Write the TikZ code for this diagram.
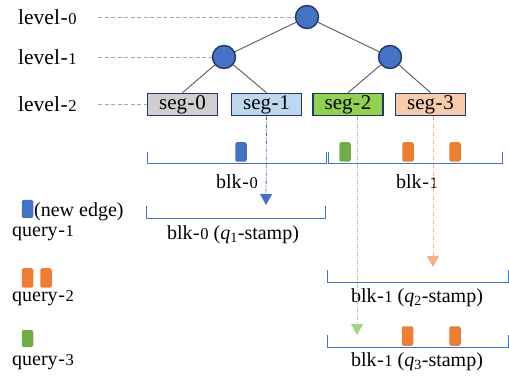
\documentclass[tikz,border=0pt]{standalone}
\usepackage{fontspec}
\setmainfont{Liberation Serif}
\usetikzlibrary{arrows.meta}
\definecolor{nodeblue}{HTML}{4472C4}
\definecolor{navy}{HTML}{203864}
\definecolor{segGray}{HTML}{D0CECE}
\definecolor{segBlue}{HTML}{BDD7EE}
\definecolor{segGreen}{HTML}{92D050}
\definecolor{segPeach}{HTML}{F8CBAD}
\definecolor{edgeOrange}{HTML}{ED7D31}
\definecolor{edgeGreen}{HTML}{70AD47}
\definecolor{lightGreen}{HTML}{A9D18E}
\definecolor{lightOrange}{HTML}{F4B183}
\definecolor{lineGray}{HTML}{595959}
\definecolor{dashGray}{HTML}{A6A6A6}
\newcommand\od[1]{{\fontsize{16.5}{16.5}\selectfont #1}}
\newcommand\hy{\kern0.6pt-\kern0.6pt}
\begin{document}
\begin{tikzpicture}[x=1pt,y=-1pt,
  treenode/.style={circle,draw=navy,line width=1.4pt,fill=nodeblue,minimum size=23pt,inner sep=0pt},
  segbox/.style={draw=navy,line width=1.6pt,minimum width=70pt,minimum height=22pt,inner sep=0pt,font=\fontsize{21}{21}\selectfont},
  treeedge/.style={draw=lineGray,line width=0.9pt},
  dashline/.style={draw=dashGray,line width=0.8pt,dash pattern=on 4pt off 2.5pt},
  lvl/.style={anchor=west,inner sep=0pt,font=\fontsize{21.5}{21.5}\selectfont},
  txt/.style={inner sep=0pt,font=\fontsize{20}{20}\selectfont},
  bracket/.style={draw=nodeblue,line width=0.8pt},
  edgeblk/.style={rounded corners=2pt,minimum width=11.5pt,minimum height=19.5pt,inner sep=0pt},
  qarrow/.style={line width=0.8pt,dash pattern=on 4pt off 1.5pt on 1pt off 1.5pt,-{Triangle[length=11pt,width=12pt]}}
]
\path[use as bounding box] (0,0) rectangle (509,382);
% tree
\node[treenode] (r) at (307,17) {};
\node[treenode] (a) at (224,57) {};
\node[treenode] (b) at (390,57) {};
\node[segbox,fill=segGray]  (s0) at (182.5,104.5) {seg\hy0};
\node[segbox,fill=segBlue]  (s1) at (266.5,104.5) {seg\hy1};
\node[segbox,fill=segGreen] (s2) at (348,104.5) {seg\hy2};
\node[segbox,fill=segPeach] (s3) at (430.5,104.5) {seg\hy3};
\draw[treeedge] (r) -- (a);
\draw[treeedge] (r) -- (b);
\draw[treeedge] (a) -- (s0.north);
\draw[treeedge] (a) -- (s1.north);
\draw[treeedge] (b) -- (s2.north);
\draw[treeedge] (b) -- (s3.north);
% level labels
\node[lvl] (l0) at (18,17) {level\hy\od{0}};
\node[lvl] (l1) at (18,57) {level\hy\od{1}};
\node[lvl] (l2) at (18,104) {level\hy\od{2}};
\coordinate (d0) at (98,17);
\coordinate (d1) at (98,57);
\coordinate (d2) at (98,104.5);
\draw[dashline] (d0) -- (r.west);
\draw[dashline] (d1) -- (a.west);
\draw[dashline] (d2) -- (s0.west);
% blocks row
\draw[bracket] (147,152) -- (147,163) -- (326,163) -- (326,152);
\draw[bracket] (328,152) -- (328,163) -- (502,163) -- (502,152);
\node[edgeblk,fill=nodeblue]   (e1) at (241,152) {};
\node[edgeblk,fill=edgeGreen]  (e3) at (345,152) {};
\node[edgeblk,fill=edgeOrange] (e2a) at (408,152) {};
\node[edgeblk,fill=edgeOrange] (e2b) at (455,152) {};
\node[txt] (b0) at (237,182) {blk\hy\od{0}};
\node[txt] (b1) at (417,182) {blk\hy\od{1}};
% q1 stamp
\draw[bracket] (146,206) -- (146,218) -- (325,218) -- (325,206);
\node[txt] (bq1) at (233,235) {blk\hy\od{0} (\textit{q}\textsubscript{1}-stamp)};
% q2 stamp
\draw[bracket] (327,270) -- (327,282) -- (508,282) -- (508,270);
\node[txt] (bq2) at (417,298) {blk\hy\od{1} (\textit{q}\textsubscript{2}-stamp)};
% q3 stamp
\draw[bracket] (327,335) -- (327,347) -- (508,347) -- (508,335);
\node[edgeblk,fill=edgeOrange] (f2a) at (407.5,336) {};
\node[edgeblk,fill=edgeOrange] (f2b) at (455,336) {};
\node[txt] (bq3) at (417,362) {blk\hy\od{1} (\textit{q}\textsubscript{3}-stamp)};
% arrows
\coordinate (t1) at (266,205);
\coordinate (g0) at (357,116);
\coordinate (t3) at (357,335);
\coordinate (o0) at (433,116);
\coordinate (t2) at (433,267);
\draw[qarrow,nodeblue] (s1.south) -- (t1);
\draw[qarrow,lightGreen] (g0) -- (t3);
\draw[qarrow,lightOrange] (o0) -- (t2);
% legend
\node[edgeblk,fill=nodeblue,minimum height=18pt] (k1) at (27.5,209) {};
\node[txt,anchor=west] (kt) at (34,212) {(new edge)};
\node[txt,anchor=west] (q1) at (12,233) {query\hy\od{1}};
\node[edgeblk,fill=edgeOrange] (k2a) at (27.5,278) {};
\node[edgeblk,fill=edgeOrange] (k2b) at (46,278) {};
\node[txt,anchor=west] (q2) at (12,298) {query\hy\od{2}};
\node[edgeblk,fill=edgeGreen,minimum height=17pt] (k3) at (27.5,338.5) {};
\node[txt,anchor=west] (q3) at (12,362) {query\hy\od{3}};
\end{tikzpicture}
\end{document}
